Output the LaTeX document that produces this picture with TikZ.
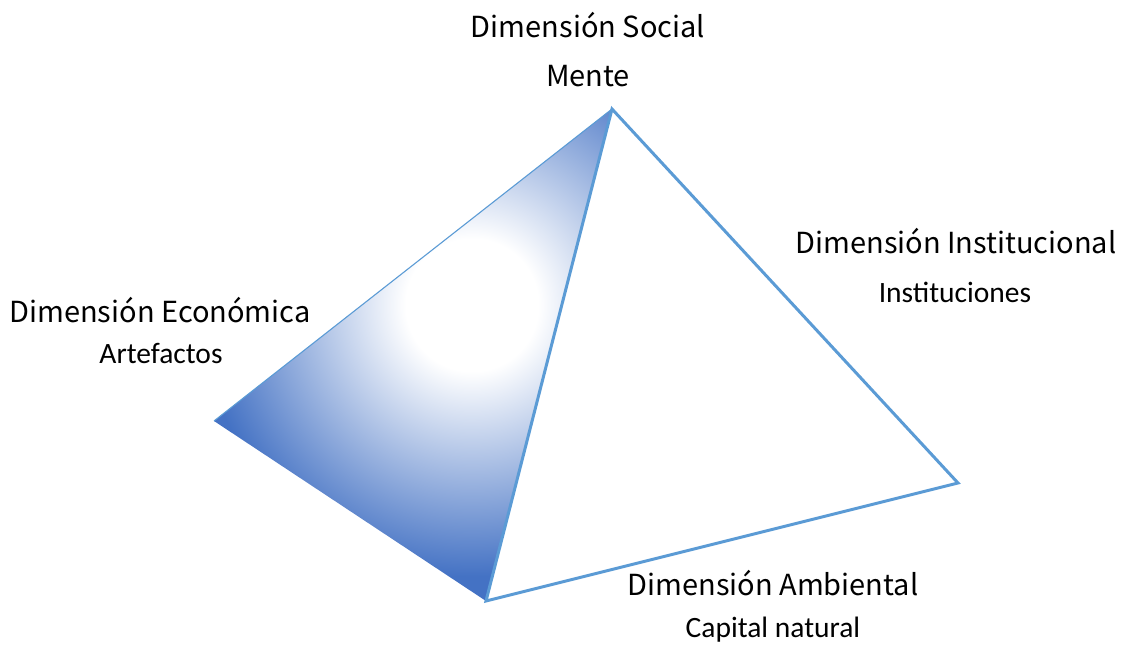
\documentclass[tikz,border=0pt]{standalone}
\usepackage{fontspec}
\setmainfont{Carlito}
\newfontfamily\headfont{Noto Sans CJK JP}
\definecolor{edgeblue}{HTML}{5B9BD5}
\definecolor{faceblue}{HTML}{4472C4}
\pgfdeclareradialshading{facerad}{\pgfpoint{0bp}{0bp}}{color(0bp)=(white); color(10bp)=(white); color(41bp)=(faceblue); color(50bp)=(faceblue)}
\begin{document}
\begin{tikzpicture}[x=1pt,y=-1pt,
  head/.style={font=\headfont\fontsize{29}{33}\selectfont, anchor=base, inner sep=0pt},
  sub/.style={font=\fontsize{29.5}{33}\selectfont, anchor=base, inner sep=0pt},
  edge/.style={draw=edgeblue, line width=3pt, line join=miter}]
\useasboundingbox (0,0) rectangle (1122,646);
\coordinate (T) at (612,109);
\coordinate (L) at (214,421);
\coordinate (B) at (486,601);
\coordinate (R) at (958,483);
\begin{scope}
  \clip (T) -- (L) -- (B) -- cycle;
  \node[inner sep=0pt, outer sep=0pt, scale=6.6] (sh) at (472,305) {\pgfuseshading{facerad}};
\end{scope}
\draw[draw=edgeblue, line width=1.1pt] (T) -- (L);
\draw[edge] (B) -- (T) -- (R) -- (B) -- cycle;
\node[head] (hs) at (588,37) {Dimensión Social};
\node[head] (ms) at (588,86) {Mente};
\node[head] (he) at (160,322) {Dimensión Económica};
\node[sub] (me) at (161,363) {Artefactos};
\node[head] (hi) at (956,253) {Dimensión Institucional};
\node[sub] (mi) at (955,302) {Instituciones};
\node[head] (ha) at (773,595) {Dimensión Ambiental};
\node[sub] (ma) at (773,637) {Capital natural};
\end{tikzpicture}
\end{document}
